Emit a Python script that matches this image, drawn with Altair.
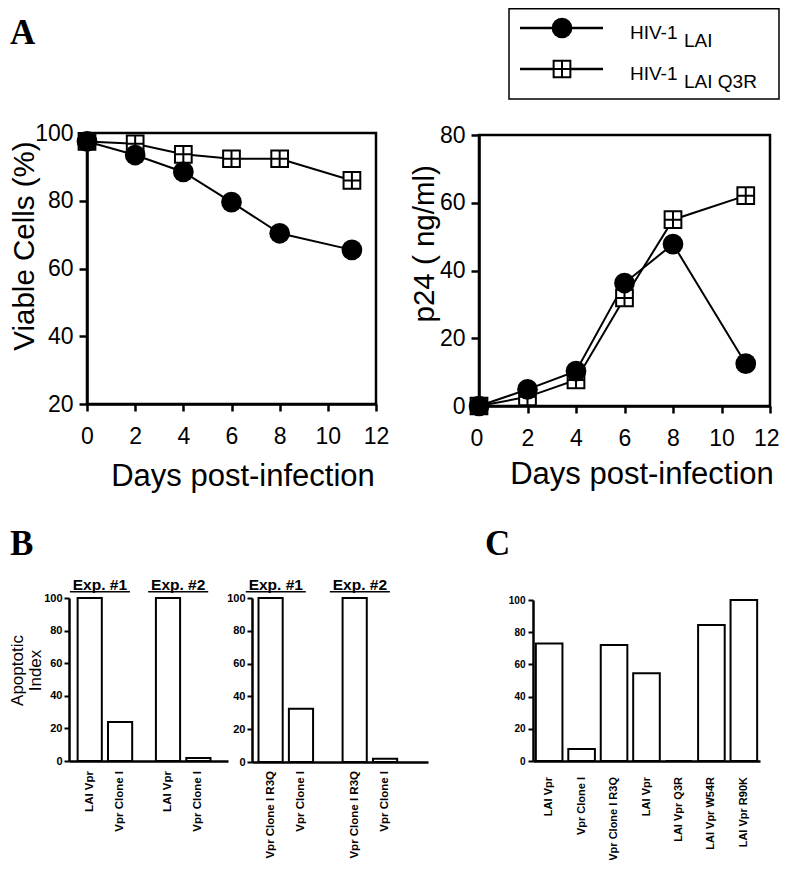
import altair as alt
import pandas as pd

# ------------------------------------------------------------------ data
days = [0, 2, 4, 6, 8, 11]
series_names = ["HIV-1 LAI", "HIV-1 LAI Q3R"]
series_main = ["HIV-1", "HIV-1"]
series_sub = ["LAI", "LAI Q3R"]
viable_lai = [97.5, 93.5, 88.5, 79.6, 70.4, 65.5]
viable_q3r = [97.5, 96.8, 93.7, 92.4, 92.4, 86.0]
p24_lai = [0.0, 4.9, 10.3, 36.3, 47.8, 12.5]
p24_q3r = [0.0, 2.7, 7.7, 31.9, 55.0, 62.1]

b_groups = ["Exp. #1", "Exp. #2"]
b1_constructs = ["LAI  Vpr", "Vpr Clone I"]
b1_exp1 = [100, 24]
b1_exp2 = [100, 1.8]
b2_constructs = ["Vpr Clone I R3Q", "Vpr Clone I"]
b2_exp1 = [100, 32.5]
b2_exp2 = [100, 2]

c_labels = ["LAI  Vpr", "Vpr Clone I", "Vpr Clone I R3Q", "LAI  Vpr",
            "LAI Vpr Q3R", "LAI  Vpr W54R", "LAI  Vpr R90K"]
c_values = [73, 7.5, 72, 54.5, 0, 84.5, 100]

# ------------------------------------------------------------------ tables
dfA = pd.DataFrame({
    "day": days * 2,
    "series": [series_names[0]] * len(days) + [series_names[1]] * len(days),
    "viable": viable_lai + viable_q3r,
    "p24": p24_lai + p24_q3r,
})
dfLeg = pd.DataFrame({"series": series_names, "main": series_main, "sub": series_sub})


def b_table(constructs, exp1, exp2):
    return pd.DataFrame({
        "group": [b_groups[0]] * 2 + [b_groups[1]] * 2,
        "construct": constructs * 2,
        "value": exp1 + exp2,
    })


dfB1 = b_table(b1_constructs, b1_exp1, b1_exp2)
dfB2 = b_table(b2_constructs, b2_exp1, b2_exp2)
c_keys = [f"c{i}" for i in range(len(c_labels))]
dfC = pd.DataFrame({"key": c_keys, "label": c_labels, "value": c_values})
one = pd.DataFrame({"k": [0]})

# ------------------------------------------------------------------ layout constants
W, H = 773, 852
FONT = "Liberation Sans"
SERIF = "Liberation Serif"
SQ = "M-1,-1H1V1H-1Z M0,-1V1 M-1,0H1"


def panel_a(field, ydom, yvals, xr, yr, ytitle, ytx, yty, xtx, xty, flush):
    xs = alt.Scale(domain=[0, 12], range=xr, nice=False, zero=False)
    ys = alt.Scale(domain=ydom, range=yr, nice=False, zero=False)
    flush_opts = dict(labelFlush=True, labelFlushOffset=9) if flush else dict(labelFlush=False)
    xax = alt.Axis(orient="bottom", offset=yr[0] - H, values=list(range(0, 13, 2)),
                   grid=False, tickSize=7, tickWidth=2.5, domainWidth=2.5,
                   labelFontSize=23, labelPadding=14,
                   title="Days post-infection", titleFontSize=31, titleFontWeight="normal",
                   titleX=xtx, titleY=xty, titleAlign="center", titleBaseline="alphabetic",
                   **flush_opts)
    yax = alt.Axis(orient="left", offset=-xr[0], values=yvals, grid=False,
                   tickSize=8, tickWidth=2.5, domainWidth=2.5,
                   labelFontSize=23, labelPadding=6, labelFlush=False,
                   title=ytitle, titleFontSize=29.5, titleFontWeight="normal",
                   titleAngle=270, titleX=ytx, titleY=yty, titleAlign="center",
                   titleBaseline="alphabetic")
    base = alt.Chart(dfA)
    lines = base.mark_line(color="black", strokeWidth=2).encode(
        x=alt.X("day:Q", scale=xs, axis=xax),
        y=alt.Y(f"{field}:Q", scale=ys, axis=yax),
        detail="series:N",
    )
    box = alt.Chart(one).mark_rect(fillOpacity=0, stroke="black", strokeWidth=2.5).encode(
        x=alt.X(datum=0, type="quantitative", scale=xs, axis=None),
        x2=alt.X2(datum=12),
        y=alt.Y(datum=ydom[0], type="quantitative", scale=ys, axis=None),
        y2=alt.Y2(datum=ydom[1]),
    )
    squares = base.transform_filter(alt.datum.series == series_names[1]).mark_point(
        shape=SQ, size=280, filled=True, fill="white", stroke="black", strokeWidth=2, opacity=1
    ).encode(x=alt.X("day:Q", scale=xs, axis=None), y=alt.Y(f"{field}:Q", scale=ys, axis=None))
    circles = base.transform_filter(alt.datum.series == series_names[0]).mark_point(
        shape="circle", size=430, filled=True, fill="black", strokeWidth=0, opacity=1
    ).encode(x=alt.X("day:Q", scale=xs, axis=None), y=alt.Y(f"{field}:Q", scale=ys, axis=None))
    return [lines, box, squares, circles]


A1 = panel_a("viable", [20, 100], [20, 40, 60, 80, 100], [79, 368], [396, 125],
             "Viable Cells (%)", 25 - 79, 237.5, 234.5, 81, False)
A2 = panel_a("p24", [0, 80], [0, 20, 40, 60, 80], [471, 762], [398, 127],
             "p24 ( ng/ml)", 425 - 471, 235.3, 633.5, 77.5, True)

# ------------------------------------------------------------------ legend
ly = alt.Y("series:N", scale=alt.Scale(type="point", domain=series_names, range=[20, 61], padding=0),
           axis=None)
leg_box = alt.Chart(one).mark_rect(fillOpacity=0, stroke="black", strokeWidth=1.5).encode(
    x=alt.value(501), x2=alt.value(771), y=alt.value(0.75), y2=alt.value(91))
leg_base = alt.Chart(dfLeg)
leg_lines = leg_base.mark_rule(color="black", strokeWidth=2.5).encode(
    x=alt.value(512), x2=alt.value(595), y=ly)
leg_sq = leg_base.transform_filter(alt.datum.series == series_names[1]).mark_point(
    shape=SQ, size=280, filled=True, fill="white", stroke="black", strokeWidth=2, opacity=1
).encode(x=alt.value(554), y=ly)
leg_ci = leg_base.transform_filter(alt.datum.series == series_names[0]).mark_point(
    shape="circle", size=430, filled=True, fill="black", strokeWidth=0, opacity=1
).encode(x=alt.value(554), y=ly)
leg_main = leg_base.mark_text(align="left", baseline="alphabetic", dy=11, fontSize=19,
                              font=FONT, color="black").encode(
    x=alt.value(622), y=ly, text="main:N")
leg_sub = leg_base.mark_text(align="left", baseline="alphabetic", dy=19, fontSize=19,
                             font=FONT, color="black").encode(
    x=alt.value(676), y=ly, text="sub:N")
LEG = [leg_box, leg_lines, leg_sq, leg_ci, leg_main, leg_sub]


# ------------------------------------------------------------------ panel B
def panel_b(df, constructs, xr, pi, po, align, yr, show_title, dx):
    xs = alt.Scale(type="band", domain=b_groups, range=xr, paddingInner=pi, paddingOuter=po,
                   align=align)
    xos = alt.Scale(type="band", domain=constructs, paddingInner=0.204, paddingOuter=0)
    ys = alt.Scale(domain=[0, 100], range=yr, nice=False)
    xax = alt.Axis(orient="bottom", offset=yr[0] - H, labels=False, ticks=False,
                   domainWidth=2.5, title=None, grid=False)
    yopts = dict(orient="left", offset=-xr[0], values=[0, 20, 40, 60, 80, 100], grid=False,
                 tickSize=5, tickWidth=2, domainWidth=2.5, labelFontSize=11,
                 labelFontWeight="bold", labelPadding=2, labelFlush=False)
    if show_title:
        yax = alt.Axis(title=["Apoptotic", "Index"], titleFontSize=17, titleFontWeight="normal",
                       titleAngle=270, titleX=18 - xr[0], titleY=662, titleAlign="center",
                       titleBaseline="bottom", titleLineHeight=18, **yopts)
    else:
        yax = alt.Axis(title=None, **yopts)
    bars = alt.Chart(df).mark_bar(fill="white", stroke="black", strokeWidth=2).encode(
        x=alt.X("group:N", scale=xs, axis=xax),
        xOffset=alt.XOffset("construct:N", scale=xos),
        y=alt.Y("value:Q", scale=ys, axis=yax),
    )
    labels = alt.Chart(df).mark_text(angle=270, align="right", baseline="middle", fontSize=11.5,
                                     fontWeight="bold", font=FONT, color="black").encode(
        x=alt.X("group:N", scale=xs, axis=None),
        xOffset=alt.XOffset("construct:N", scale=xos),
        y=alt.value(763), text="construct:N",
    )
    gdf = pd.DataFrame({"group": b_groups})
    exp_txt = alt.Chart(gdf).mark_text(baseline="alphabetic", dx=dx, fontSize=15.5,
                                       fontWeight="bold", font=FONT, color="black").encode(
        x=alt.X("group:N", scale=xs, axis=None), y=alt.value(581.5), text="group:N")
    exp_line = alt.Chart(gdf).mark_bar(color="black", xOffset=dx,
                                       width=alt.RelativeBandSize(1.1)).encode(
        x=alt.X("group:N", scale=xs, axis=None), y=alt.value(583), y2=alt.value(584.5))
    return [bars, labels, exp_txt, exp_line]


B1 = panel_b(dfB1, b1_constructs, [61, 220], 0.303, 0.167, 0.33, [753, 590], True, -5)
B2 = panel_b(dfB2, b2_constructs, [244, 420], 0.351, 0.222, 0.174, [754, 590], False, -10)

# ------------------------------------------------------------------ panel C
xsC = alt.Scale(type="band", domain=c_keys, range=[525, 752], paddingInner=0.18,
                paddingOuter=0.0875)
ysC = alt.Scale(domain=[0, 100], range=[753, 592], nice=False)
C_bars = alt.Chart(dfC).mark_bar(fill="white", stroke="black", strokeWidth=2).encode(
    x=alt.X("key:N", scale=xsC, sort=c_keys,
            axis=alt.Axis(orient="bottom", offset=753 - H, labels=False, ticks=False,
                          domainWidth=2.5, title=None, grid=False)),
    y=alt.Y("value:Q", scale=ysC,
            axis=alt.Axis(orient="left", offset=-525, values=[0, 20, 40, 60, 80, 100], grid=False,
                          tickSize=5, tickWidth=2, domainWidth=2.5, labelFontSize=10,
                          labelFontWeight="bold", labelPadding=3, title=None)),
)
C_labels = alt.Chart(dfC).mark_text(angle=270, align="right", baseline="middle", fontSize=11,
                                    fontWeight="bold", font=FONT, color="black").encode(
    x=alt.X("key:N", scale=xsC, sort=c_keys, axis=None), y=alt.value(769), text="label:N")
C = [C_bars, C_labels]


# ------------------------------------------------------------------ panel letters
def letter(t, x, y):
    return alt.Chart(one).mark_text(font=SERIF, fontWeight="bold", fontSize=35, align="left",
                                    baseline="alphabetic", color="black").encode(
        x=alt.value(x), y=alt.value(y), text=alt.value(t))


LET = [letter("A", 2, 36), letter("B", 2, 547), letter("C", 477, 547)]

chart = alt.layer(*(A1 + A2 + LEG + B1 + B2 + C + LET)).resolve_scale(
    x="independent", y="independent", xOffset="independent"
).resolve_axis(x="independent", y="independent").properties(
    width=W, height=H, padding=0, autosize=alt.AutoSizeParams(type="none")
).configure_view(stroke=None).configure_axis(
    labelFont=FONT, titleFont=FONT, labelColor="black", titleColor="black",
    domainColor="black", tickColor="black"
)

chart.save("out.html", embed_options={"renderer": "svg", "actions": False})
